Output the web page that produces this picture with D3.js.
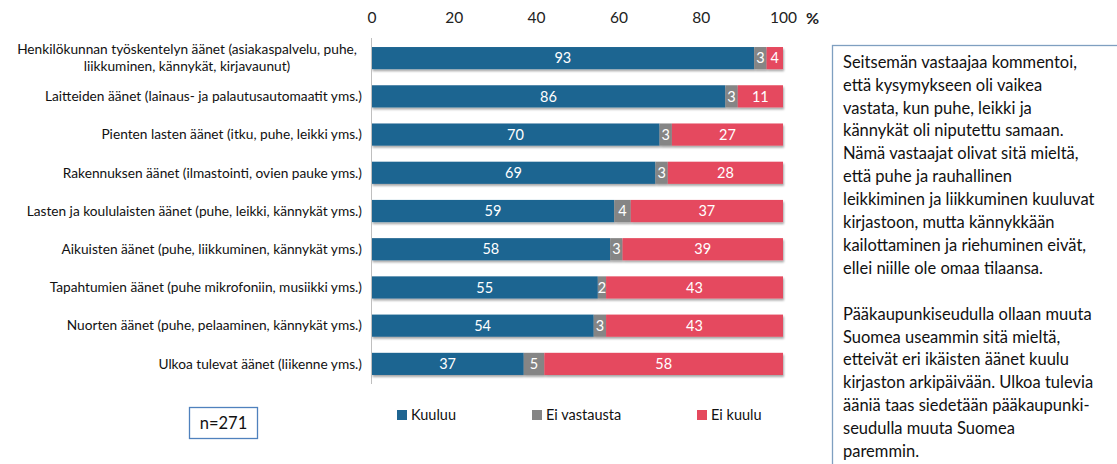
<!DOCTYPE html>
<html><head><meta charset="utf-8">
<script src="https://cdn.jsdelivr.net/npm/d3@7"></script>
<style>body{margin:0;background:#fff;} svg{display:block;}</style>
</head><body>
<svg id="c" width="1117" height="464"></svg>
<script>
const categories = [
  ["Henkilökunnan työskentelyn äänet (asiakaspalvelu, puhe,", "liikkuminen, kännykät, kirjavaunut)"],
  ["Laitteiden äänet (lainaus- ja palautusautomaatit yms.)"],
  ["Pienten lasten äänet (itku, puhe, leikki yms.)"],
  ["Rakennuksen äänet (ilmastointi, ovien pauke yms.)"],
  ["Lasten ja koululaisten äänet (puhe, leikki, kännykät yms.)"],
  ["Aikuisten äänet (puhe, liikkuminen, kännykät yms.)"],
  ["Tapahtumien äänet (puhe mikrofoniin, musiikki yms.)"],
  ["Nuorten äänet (puhe, pelaaminen, kännykät yms.)"],
  ["Ulkoa tulevat äänet (liikenne yms.)"]
];
const seriesNames = ["Kuuluu", "Ei vastausta", "Ei kuulu"];
const kuuluu = [93, 86, 70, 69, 59, 58, 55, 54, 37];
const eiVastausta = [3, 3, 3, 3, 4, 3, 2, 3, 5];
const eiKuulu = [4, 11, 27, 28, 37, 39, 43, 43, 58];
const tickValues = [0, 20, 40, 60, 80, 100];
const noteLines = [
  "Seitsemän vastaajaa kommentoi,",
  "että kysymykseen oli vaikea",
  "vastata, kun puhe, leikki ja",
  "kännykät oli niputettu samaan.",
  "Nämä vastaajat olivat sitä mieltä,",
  "että puhe ja rauhallinen",
  "leikkiminen ja liikkuminen kuuluvat",
  "kirjastoon, mutta kännykkään",
  "kailottaminen ja riehuminen eivät,",
  "ellei niille ole omaa tilaansa.",
  "",
  "Pääkaupunkiseudulla ollaan muuta",
  "Suomea useammin sitä mieltä,",
  "etteivät eri ikäisten äänet kuulu",
  "kirjaston arkipäivään. Ulkoa tulevia",
  "ääniä taas siedetään pääkaupunki-",
  "seudulla muuta Suomea",
  "paremmin."
];
const sampleLabel = "n=271";

const colors = ["#1f6591", "#858585", "#e5495e"];
const font = "Lato, 'Open Sans', sans-serif";
const svg = d3.select("#c");

const x = d3.scaleLinear().domain([0, 100]).range([371.5, 783]);
const y = d3.scaleBand().domain(d3.range(categories.length)).range([39, 383]).paddingInner(0.42).paddingOuter(0.21);

const rows = categories.map((c, i) => {
  const vals = [kuuluu[i], eiVastausta[i], eiKuulu[i]];
  let acc = 0;
  return vals.map((v, k) => { const s = {i, k, v, x0: acc, x1: acc + v}; acc += v; return s; });
});

// shadows
const defs = svg.append("defs");
const f = defs.append("filter").attr("id", "sh").attr("x", "-5%").attr("y", "-20%").attr("width", "110%").attr("height", "160%");
f.append("feGaussianBlur").attr("in", "SourceAlpha").attr("stdDeviation", 1.2);
f.append("feOffset").attr("dx", 1).attr("dy", 2).attr("result", "o");
f.append("feComponentTransfer").append("feFuncA").attr("type", "linear").attr("slope", 0.35);
const m = f.append("feMerge"); m.append("feMergeNode"); m.append("feMergeNode").attr("in", "SourceGraphic");

// top axis
const ax = svg.append("g").attr("transform", "translate(0,18)")
  .call(d3.axisTop(x).tickValues(tickValues).tickSize(0).tickPadding(0));
ax.select(".domain").remove();
ax.selectAll("text").attr("font-family", font).attr("font-size", 15.5).attr("fill", "#222").attr("dy", "0.35em");
svg.append("text").attr("x", 806).attr("y", 18).attr("dy", "0.35em").attr("font-family", font)
  .attr("font-size", 16).attr("font-weight", "bold").attr("fill", "#222").text("%");

// bars
const g = svg.append("g");
rows.forEach((segs, i) => {
  const rg = g.append("g").attr("filter", "url(#sh)");
  rg.selectAll("rect").data(segs).join("rect")
    .attr("x", d => x(d.x0)).attr("width", d => x(d.x1) - x(d.x0))
    .attr("y", y(i)).attr("height", y.bandwidth())
    .attr("fill", d => colors[d.k]);
  g.selectAll(null).data(segs).join("text")
    .attr("x", d => (x(d.x0) + x(d.x1)) / 2).attr("y", y(i) + y.bandwidth() / 2)
    .attr("dy", "0.36em").attr("text-anchor", "middle")
    .attr("font-family", font).attr("font-size", 14.5).attr("fill", "#fff")
    .text(d => d.v);
});

// vertical axis line
svg.append("line").attr("x1", x(0)).attr("x2", x(0)).attr("y1", 38).attr("y2", 384)
  .attr("stroke", "#bfbfbf").attr("stroke-width", 1);

// category labels
categories.forEach((lines, i) => {
  const cy = y(i) + y.bandwidth() / 2;
  const lh = 17;
  const t = svg.append("text").attr("font-family", font)
    .attr("font-size", 13.7).attr("fill", "#111");
  lines.forEach((l, j) => {
    t.append("tspan").attr("x", lines.length > 1 ? 187 : 362)
      .attr("text-anchor", lines.length > 1 ? "middle" : "end")
      .attr("y", cy + (j - (lines.length - 1) / 2) * lh).attr("dy", "0.35em").text(l);
  });
});

// legend
const lx = [397, 532, 697];
seriesNames.forEach((n, k) => {
  svg.append("rect").attr("x", lx[k]).attr("y", 410).attr("width", 10).attr("height", 10).attr("fill", colors[k]);
  svg.append("text").attr("x", lx[k] + 14).attr("y", 415).attr("dy", "0.36em")
    .attr("font-family", font).attr("font-size", 14.5).attr("fill", "#111").text(n);
});

// n box
svg.append("rect").attr("x", 189.5).attr("y", 407.5).attr("width", 68).attr("height", 31)
  .attr("fill", "#fff").attr("stroke", "#4f81bd").attr("stroke-width", 1.3);
svg.append("text").attr("x", 223.5).attr("y", 423).attr("dy", "0.36em").attr("text-anchor", "middle")
  .attr("font-family", font).attr("font-size", 16.5).attr("fill", "#111").text(sampleLabel);

// note box
svg.append("rect").attr("x", 832.5).attr("y", 45.5).attr("width", 300).attr("height", 430)
  .attr("fill", "#fff").attr("stroke", "#7f9fc0").attr("stroke-width", 1.3);
const nt = svg.append("text").attr("font-family", font).attr("font-size", 16.5).attr("fill", "#111");
noteLines.forEach((l, j) => {
  nt.append("tspan").attr("x", 843).attr("y", 62 + j * 22.9).attr("dy", "0.35em").text(l);
});
</script>
</body></html>
